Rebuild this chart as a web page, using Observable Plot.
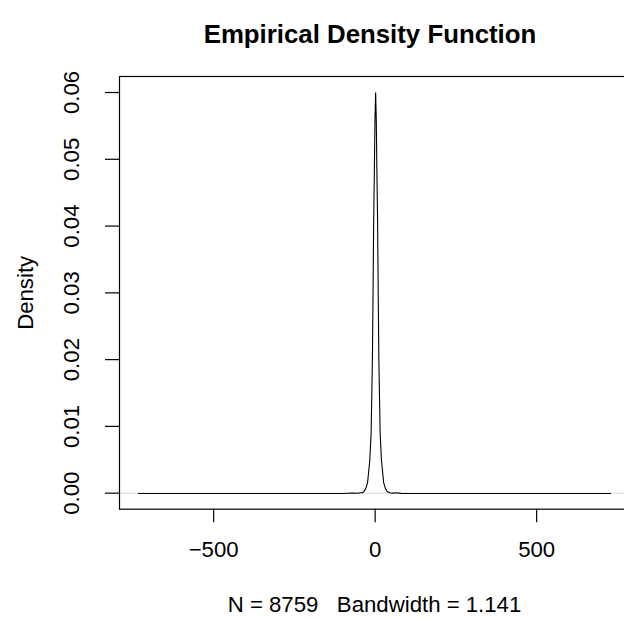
<!DOCTYPE html>
<html><head><meta charset="utf-8">
<script src="https://cdn.jsdelivr.net/npm/d3@7"></script>
<script src="https://cdn.jsdelivr.net/npm/@observablehq/plot@0.6"></script>
<style>
html,body{margin:0;padding:0;background:#fff;}
#chart{width:624px;height:618px;overflow:hidden;}
</style></head><body><div id="chart"></div>
<script>
const titleText = ["Empirical Density Function"];
const captionText = ["N = 8759\u00a0\u00a0\u00a0Bandwidth = 1.141"];
const yAxisTitle = ["Density"];

// density estimate
const densityX = [-733, -300, -100, -70, -55, -45, -40, -34.5, -28.5, -23.5, -16.5, -12.5, -8.5, -6.5, -4.5, -2.5, -0.5, 1.5, 3.5, 5.5, 7.5, 9.5, 11.5, 15.5, 19.5, 26.5, 31.5, 37.5, 45, 55, 65, 80, 120, 300, 729];
const densityY = [0, 0, 0, 0.00006, 0.00003, 0.0001, 0.0001, 0.0003, 0.0008, 0.0016, 0.005, 0.009, 0.02, 0.03, 0.041, 0.048, 0.056, 0.06, 0.056, 0.048, 0.041, 0.03, 0.02, 0.009, 0.005, 0.0016, 0.0008, 0.0003, 0.0001, 0.00005, 0.0001, 0.00002, 0, 0, 0];

const xTicks = [-500, 0, 500];
const xTickLabels = ["\u2212500", "0", "500"];
const yTicks = [0, 0.01, 0.02, 0.03, 0.04, 0.05, 0.06];
const yTickLabels = ["0.00", "0.01", "0.02", "0.03", "0.04", "0.05", "0.06"];

const density = densityX.map((x, i) => ({x, y: densityY[i]}));
const xLab = xTicks.map((v, i) => ({v, t: xTickLabels[i]}));
const yLab = yTicks.map((v, i) => ({v, t: yTickLabels[i]}));

const FONT = "'Liberation Sans', Arial, Helvetica, sans-serif";
const BASE = 22.2;

const chart = Plot.plot({
  width: 624,
  height: 618,
  marginLeft: 119,
  marginRight: -5,
  marginTop: 76,
  marginBottom: 109.3,
  style: {fontFamily: FONT, background: "#fff", overflow: "hidden"},
  x: {domain: [-791.5, 787.5]},
  y: {domain: [-0.0024, 0.0624]},
  marks: [
    Plot.ruleY([0], {stroke: "#bebebe", strokeWidth: 0.6}),
    Plot.line(density, {x: "x", y: "y", stroke: "black", strokeWidth: 1.1, dy: 0.3}),
    Plot.frame({stroke: "black", strokeWidth: 1.2}),
    Plot.axisX({ticks: xTicks, tickSize: 13.5, tickFormat: () => "", label: null, stroke: "black", strokeWidth: 1.2}),
    Plot.axisY({ticks: yTicks, tickSize: 14, tickFormat: () => "", label: null, stroke: "black", strokeWidth: 1.2}),
    Plot.text(xLab, {x: "v", text: "t", frameAnchor: "bottom", dy: 40.3, lineAnchor: "middle", fontSize: BASE, fill: "black"}),
    Plot.text(yLab, {y: "v", text: "t", frameAnchor: "left", dx: -47.3, rotate: -90, textAnchor: "middle", lineAnchor: "middle", fontSize: BASE, fill: "black"}),
    Plot.text(yAxisTitle, {frameAnchor: "left", dx: -94, rotate: -90, textAnchor: "middle", lineAnchor: "middle", fontSize: BASE, fill: "black"}),
    Plot.text(titleText, {frameAnchor: "top", dx: -4.5, dy: -41.5, lineAnchor: "middle", fontSize: 25.8, fontWeight: "bold", fill: "black"}),
    Plot.text(captionText, {frameAnchor: "bottom", dy: 95.6, lineAnchor: "middle", fontSize: BASE, fill: "black"})
  ]
});
document.getElementById("chart").appendChild(chart);
</script></body></html>
